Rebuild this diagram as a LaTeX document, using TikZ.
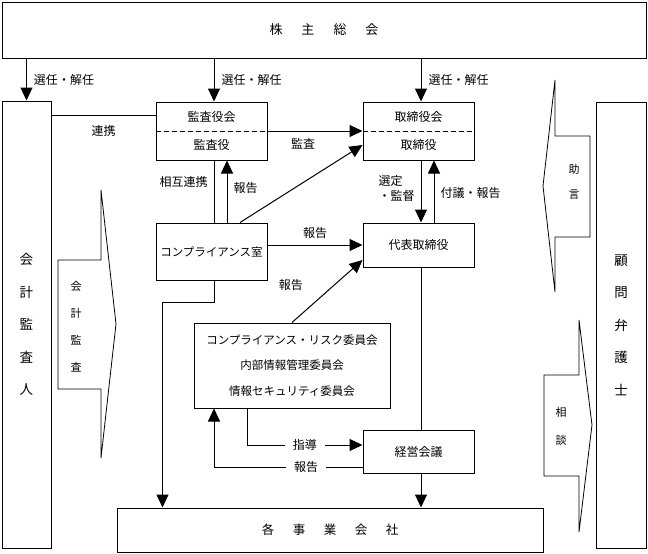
\documentclass[tikz,border=0pt]{standalone}
\usepackage{fontspec}
\newfontfamily\jp{Noto Sans CJK JP}
\usetikzlibrary{arrows.meta,positioning,calc}

\begin{document}
\begin{tikzpicture}[
x=1pt,y=-1pt,
box/.style={
  draw,
  line width=1pt,
  inner sep=0pt,
  align=center,
  font=\jp\fontsize{12}{28}\selectfont
  },
lbl/.style={
  inner sep=1pt,
  align=left,
  font=\jp\fontsize{12}{15}\selectfont
  },
gap/.style={
  fill=white,
  inner xsep=8pt
  },
tall/.style={
  align=center,
  font=\jp\fontsize{13.5}{32.5}\selectfont
  },
callout/.style={
  draw,
  line width=.8pt,
  line join=miter
  },
ar/.style={
  ->,
  >={Triangle[length=13pt,width=12pt]},
  line width=1pt
  }
]

\fill[white] (0,0) rectangle (648,554);
\useasboundingbox (0,0) rectangle (648,554);

%The nodes for the top and the sides
\node[box,minimum width=644pt,minimum height=56pt,font=\jp\fontsize{13}{15}\selectfont] (soukai) at (324,30)
  {株\hspace{19pt}主\hspace{19pt}総\hspace{19pt}会};
\node[box,tall,minimum width=49pt,minimum height=447pt] (kaikei) at (26.5,324.5)
  {会\\計\\監\\査\\人};
\node[box,tall,minimum width=50pt,minimum height=446pt] (komon) at (621,325)
  {顧\\問\\弁\\護\\士};

%The nodes in the middle
\node[box,minimum width=111pt,minimum height=58pt] (kansa) at (211.5,131)
  {監査役会\\監査役};
\node[box,minimum width=111pt,minimum height=58pt] (tori) at (418.5,131)
  {取締役会\\取締役};
\node[box,minimum width=111pt,minimum height=57pt,font=\jp\fontsize{11.5}{14}\selectfont] (comp) at (211.5,251.5)
  {コンプライアンス室};
\node[box,minimum width=111pt,minimum height=44pt] (daihyo) at (418.5,245)
  {代表取締役};
\node[box,minimum width=196pt,minimum height=85pt,font=\jp\fontsize{11.5}{25.5}\selectfont] (iinkai) at (292,365.5)
  {コンプライアンス・リスク委員会\\内部情報管理委員会\\情報セキュリティ委員会};
\node[box,minimum width=111pt,minimum height=43pt] (keiei) at (418.5,451.5)
  {経営会議};
\node[box,minimum width=426pt,minimum height=44pt,font=\jp\fontsize{12.5}{15}\selectfont] (jigyo) at (330,530)
  {各\hspace{18.5pt}事\hspace{18.5pt}業\hspace{18.5pt}会\hspace{18.5pt}社};

\draw[dashed,line width=1pt,dash pattern=on 5pt off 3pt] (kansa.west) -- (kansa.east);
\draw[dashed,line width=1pt,dash pattern=on 5pt off 3pt] (tori.west) -- (tori.east);

%Callouts
\draw[callout] (116,324) -- (101,190) -- (101,260) -- (58,260) -- (58,389) -- (101,389) -- (101,458) -- cycle;
\node[tall,font=\jp\fontsize{11}{27}\selectfont] (kaikeikansa) at (76,327) {会\\計\\監\\査};
\draw[callout] (543,186) -- (555,80) -- (555,136) -- (590,136) -- (590,237) -- (555,237) -- (555,292) -- cycle;
\node[tall,font=\jp\fontsize{11}{25}\selectfont] (jogen) at (574,182) {助\\言};
\draw[callout] (592,425) -- (579,320) -- (579,375) -- (544,375) -- (544,476) -- (579,476) -- (579,532) -- cycle;
\node[tall,font=\jp\fontsize{11}{28}\selectfont] (soudan) at (561,426) {相\\談};

%Connectors
\draw[ar] (kaikei.north |- soukai.south) -- node[lbl,right=6pt] {選任・解任} (kaikei.north);
\draw[ar] ([xshift=2.5pt]kansa.north |- soukai.south) -- node[lbl,right=6pt] {選任・解任} ([xshift=2.5pt]kansa.north);
\draw[ar] ([xshift=2.5pt]tori.north |- soukai.south) -- node[lbl,right=6pt] {選任・解任} ([xshift=2.5pt]tori.north);

\draw[line width=1pt] ([yshift=-14pt]kansa.north west) -- node[lbl,below=8pt] {連携} ([yshift=-14pt]kansa.north west -| kaikei.east);
\draw[ar] (kansa.east) -- node[lbl,pos=.375,below=6pt] {監査} (tori.west);

\draw[line width=1pt] ([xshift=2.5pt]kansa.south) -- node[lbl,pos=.35,left=5pt] {相互連携} ([xshift=2.5pt]comp.north);
\draw[ar] ([xshift=15.5pt]comp.north) -- node[lbl,pos=.55,right=5pt] {報告} ([xshift=15.5pt]kansa.south);
\draw[ar] ([xshift=28.5pt]comp.north) -- ([yshift=-14pt]tori.west);
\draw[ar] (comp.east |- daihyo.west) -- node[lbl,above=5pt] {報告} (daihyo.west);

\draw[ar] ([xshift=2.5pt]tori.south) -- node[lbl,pos=.45,left=5pt] {選定\\・監督} ([xshift=2.5pt]daihyo.north);
\draw[ar] ([xshift=15.5pt]daihyo.north) -- node[lbl,pos=.48,right=5pt] {付議・報告} ([xshift=15.5pt]tori.south);

\draw[ar] (iinkai.north) -- node[lbl,pos=.6,left=30pt] {報告} ([yshift=-15pt]daihyo.west);
\draw[ar] ([xshift=2.5pt]comp.south) -- ++(0,22) -| ([xshift=46pt]jigyo.north west);

\draw[ar] ([xshift=-45pt]iinkai.south) |- node[lbl,gap,pos=.75] {指導} ([yshift=6.5pt]keiei.west);
\draw[ar] ([yshift=-15.5pt]keiei.west) -| node[lbl,gap,pos=.19] {報告} ([xshift=-78pt]iinkai.south);

\draw[line width=1pt] ([xshift=2.5pt]daihyo.south) -- ([xshift=2.5pt]keiei.north);
\draw[ar] ([xshift=2.5pt]keiei.south) -- ([xshift=2.5pt]keiei.south |- jigyo.north);

\end{tikzpicture}
\end{document}
